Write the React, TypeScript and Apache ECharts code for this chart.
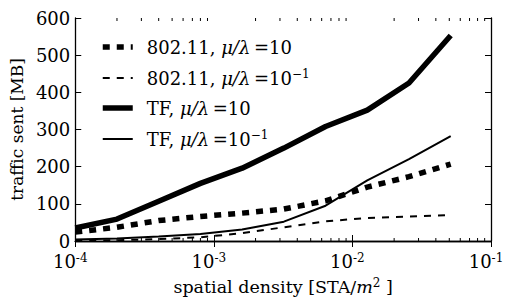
import React, { useEffect, useRef } from "react";
import * as echarts from "echarts";

const xValues = [1e-4, 2e-4, 4e-4, 8e-4, 1.6e-3, 3.2e-3, 6.4e-3, 1.28e-2, 2.56e-2, 5.12e-2];
const wifiHigh = [24, 37, 55, 66, 75, 86, 108, 145, 173, 207];
const wifiLow = [1, 2, 5, 10, 21, 37, 53, 62, 66, 70];
const tfHigh = [35, 59, 107, 155, 196, 250, 308, 352, 425, 553];
const tfLow = [4, 7, 12, 19, 31, 52, 95, 163, 220, 282];

const seriesNames = [
  "802.11, μ/λ=10",
  "802.11, μ/λ=10^-1",
  "TF, μ/λ=10",
  "TF, μ/λ=10^-1",
];
const legendRich: Record<string, string> = {
  "802.11, μ/λ=10": "{n|802.11, }{m|μ/λ}{n|\u2009=10}",
  "802.11, μ/λ=10^-1": "{n|802.11, }{m|μ/λ}{n|\u2009=10}{s|−1}",
  "TF, μ/λ=10": "{n|TF, }{m|μ/λ}{n|\u2009=10}",
  "TF, μ/λ=10^-1": "{n|TF, }{m|μ/λ}{n|\u2009=10}{s|−1}",
};
const xTickExponents = [-4, -3, -2, -1];
const minorTicks = [-4, -3, -2].flatMap((e) =>
  [2, 3, 4, 5, 6, 7, 8, 9].map((m) => m * Math.pow(10, e))
);

const FONT = "DejaVu Serif";

const seriesStyles = [
  { color: "#000", width: 5.5, type: [7, 7] },
  { color: "#000", width: 2, type: [7, 7] },
  { color: "#000", width: 5.5, type: "solid" },
  { color: "#000", width: 2, type: "solid" },
];
const seriesValues = [wifiHigh, wifiLow, tfHigh, tfLow];

export default function App() {
  const ref = useRef<HTMLDivElement>(null);
  useEffect(() => {
    if (!ref.current) return;
    const chart = echarts.init(ref.current, null, { renderer: "svg" });
    const pair = (ys: number[]) => xValues.map((x, i) => [x, ys[i]]);
    const richLegend = {
      n: { fontFamily: FONT, fontSize: 18, color: "#000", lineHeight: 20 },
      m: { fontFamily: FONT, fontSize: 18, fontStyle: "italic", color: "#000", lineHeight: 20 },
      s: { fontFamily: FONT, fontSize: 12, color: "#000", lineHeight: 12, verticalAlign: "top" },
    };
    const richName = {
      n: { fontFamily: FONT, fontSize: 17.5, color: "#000", lineHeight: 20 },
      m: { fontFamily: FONT, fontSize: 17.5, fontStyle: "italic", color: "#000", lineHeight: 20 },
      s: { fontFamily: FONT, fontSize: 12, color: "#000", lineHeight: 12, verticalAlign: "top" },
    };
    const axisLine = { show: true, lineStyle: { color: "#000", width: 1.3 } };
    chart.setOption({
      animation: false,
      backgroundColor: "#fff",
      grid: { left: 74, right: 17, top: 18, bottom: 56 },
      legend: {
        orient: "vertical",
        left: 95,
        top: 33,
        itemWidth: 30,
        itemHeight: 14,
        itemGap: 12,
        data: seriesNames.map((name, i) => ({
          name,
          lineStyle: { ...seriesStyles[i] },
          itemStyle: { opacity: 0 },
        })),
        itemStyle: { opacity: 0 },
        formatter: (name: string) => legendRich[name],
        textStyle: { padding: [0, 0, 0, 9], rich: richLegend },
      },
      xAxis: [
        {
          type: "log",
          logBase: 10,
          min: 1e-4,
          max: 1e-1,
          position: "bottom",
          axisLine,
          axisTick: { show: true, inside: true, length: 6, lineStyle: { color: "#000" } },
          splitLine: { show: false },
          minorTick: { show: false },
          axisLabel: {
            margin: 11,
            formatter: (v: number) => {
              const e = Math.round(Math.log10(v));
              return xTickExponents.includes(e) ? `{b|10}{s|${e}}` : "";
            },
            padding: [0, 10, 0, 0],
            rich: {
              b: { fontFamily: FONT, fontSize: 18, color: "#000", lineHeight: 18 },
              s: { fontFamily: FONT, fontSize: 12, color: "#000", lineHeight: 12, verticalAlign: "top" },
            },
          },
          name: "{n|spatial density [STA/}{m|m}{s|2}{n| ]}",
          nameLocation: "middle",
          nameGap: 36,
          nameTextStyle: { rich: richName },
        },
        {
          type: "log",
          logBase: 10,
          min: 1e-4,
          max: 1e-1,
          position: "top",
          axisLine,
          axisTick: { show: true, inside: true, length: 6, lineStyle: { color: "#000" } },
          axisLabel: { show: false },
          splitLine: { show: false },
        },
      ],
      yAxis: [
        {
          type: "value",
          min: 0,
          max: 600,
          interval: 100,
          position: "left",
          axisLine,
          axisTick: { show: true, inside: true, length: 6, lineStyle: { color: "#000" } },
          splitLine: { show: false },
          axisLabel: { fontFamily: FONT, fontSize: 18, lineHeight: 14, color: "#000", margin: 5 },
          name: "traffic sent [MB]",
          nameLocation: "middle",
          nameGap: 45,
          nameTextStyle: { fontFamily: FONT, fontSize: 17, color: "#000" },
        },
        {
          type: "value",
          min: 0,
          max: 600,
          interval: 100,
          position: "right",
          axisLine,
          axisTick: { show: true, inside: true, length: 6, lineStyle: { color: "#000" } },
          axisLabel: { show: false },
          splitLine: { show: false },
        },
      ],
      series: [
        ...seriesNames.map((name, i) => ({
          name,
          type: "line",
          data: pair(seriesValues[i]),
          symbol: "none",
          lineStyle: { ...seriesStyles[i] },
          itemStyle: { color: "#000" },
        })),
        {
          type: "custom",
          silent: true,
          data: minorTicks.map((v) => [v, 0]),
          renderItem: (_p: any, api: any) => {
            const x = api.value(0);
            const b = api.coord([x, 0]);
            const t = api.coord([x, 600]);
            return {
              type: "group",
              children: [
                { type: "line", shape: { x1: b[0], y1: b[1], x2: b[0], y2: b[1] - 3 }, style: { stroke: "#000", lineWidth: 1 } },
                { type: "line", shape: { x1: t[0], y1: t[1], x2: t[0], y2: t[1] + 3 }, style: { stroke: "#000", lineWidth: 1 } },
              ],
            };
          },
        },
      ],
    });
    return () => chart.dispose();
  }, []);
  return <div ref={ref} style={{ width: 508, height: 301, position: "absolute", left: 0, top: 0 }} />;
}
